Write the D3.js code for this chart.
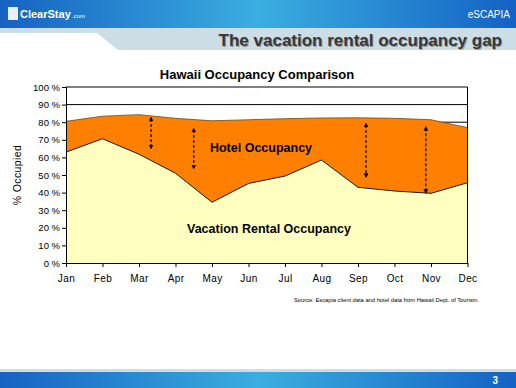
<!DOCTYPE html>
<html lang="en">
<head>
<meta charset="UTF-8">
<title>The vacation rental occupancy gap</title>
<script src="https://d3js.org/d3.v7.min.js"></script>
<style>
  body { margin: 0; background: #fff; }
  svg { display: block; font-family: Arial, "Liberation Sans", sans-serif; }
  .tick text { font-size: 9.5px; fill: #000; }
  .title { font-size: 13px; font-weight: bold; }
  .area-label { font-size: 12.5px; font-weight: bold; }
</style>
</head>
<body>
<svg width="516" height="388"></svg>
<script>
var months = ["Jan", "Feb", "Mar", "Apr", "May", "Jun", "Jul", "Aug", "Sep", "Oct", "Nov", "Dec"];
var hotel = [80.5, 83.4, 84.3, 82.2, 80.8, 81.4, 82.0, 82.4, 82.5, 82.2, 81.4, 76.9];
var vacation = [63.0, 70.6, 61.8, 51.0, 34.5, 45.2, 49.4, 58.5, 43.0, 40.9, 39.6, 45.6];
var yTicks = [0, 10, 20, 30, 40, 50, 60, 70, 80, 90, 100];
// gap arrows: position in months from Jan, top and bottom in %
var arrowAt = [2.33, 3.5, 8.22, 9.86];
var arrowTop = [81.8, 75.6, 78.4, 76.5];
var arrowBottom = [65.9, 54.5, 49.6, 40.6];

var svg = d3.select("svg");
var defs = svg.append("defs");

// header / footer bands
var blue = defs.append("linearGradient").attr("id", "blue");
blue.append("stop").attr("offset", "0%").attr("stop-color", "#1662c2");
blue.append("stop").attr("offset", "50%").attr("stop-color", "#3aaee0");
blue.append("stop").attr("offset", "100%").attr("stop-color", "#1462c4");

svg.append("rect").attr("x", 0).attr("y", 0).attr("width", 516).attr("height", 28).attr("fill", "url(#blue)");
svg.append("path").attr("d", "M0,28H516V50H118L97,33H0Z").attr("fill", "#cddde5");

svg.append("rect").attr("x", 8).attr("y", 7).attr("width", 10).attr("height", 13).attr("fill", "#fff").attr("opacity", 0.9);
svg.append("text").attr("x", 20).attr("y", 18).attr("fill", "#fff")
   .style("font-size", "11px").style("font-weight", "bold").text("ClearStay");
svg.append("text").attr("x", 72).attr("y", 18).attr("fill", "#fff")
   .style("font-size", "6px").text(".com");
svg.append("text").attr("x", 510).attr("y", 18).attr("text-anchor", "end").attr("fill", "#fff")
   .style("font-size", "10px").text("eSCAPIA");

svg.append("text").attr("x", 503).attr("y", 46.5).attr("text-anchor", "end").attr("fill", "#999")
   .style("font-size", "17px").style("font-weight", "bold").text("The vacation rental occupancy gap");
svg.append("text").attr("x", 502).attr("y", 45.5).attr("text-anchor", "end").attr("fill", "#383838")
   .style("font-size", "17px").style("font-weight", "bold").text("The vacation rental occupancy gap");

svg.append("rect").attr("x", 0).attr("y", 369).attr("width", 516).attr("height", 3).attr("fill", "#cddde5");
svg.append("rect").attr("x", 0).attr("y", 372).attr("width", 516).attr("height", 16).attr("fill", "url(#blue)");
svg.append("text").attr("x", 498).attr("y", 384).attr("text-anchor", "end").attr("fill", "#fff")
   .style("font-size", "10px").style("font-weight", "bold").text("3");

// chart
var plotLeft = 66, plotRight = 467.5, plotTop = 87, plotBottom = 263;

var x = d3.scalePoint().domain(months).range([plotLeft, plotRight]);
var xi = d3.scaleLinear().domain([0, months.length - 1]).range([plotLeft, plotRight]);
var y = d3.scaleLinear().domain([0, 100]).range([plotBottom, plotTop]);

svg.append("text").attr("class", "title").attr("x", 257).attr("y", 79)
   .attr("text-anchor", "middle").text("Hawaii Occupancy Comparison");

// gridlines
svg.append("g").selectAll("line").data(yTicks.slice(1)).join("line")
   .attr("x1", plotLeft).attr("x2", plotRight)
   .attr("y1", function(d) { return y(d); }).attr("y2", function(d) { return y(d); })
   .attr("stroke", "#000").attr("stroke-width", 1);

var area = d3.area()
    .x(function(d, i) { return x(months[i]); })
    .y0(y(0))
    .y1(function(d) { return y(d); });
var line = d3.line()
    .x(function(d, i) { return x(months[i]); })
    .y(function(d) { return y(d); });

svg.append("path").datum(hotel).attr("d", area).attr("fill", "#ff8000");
svg.append("path").datum(hotel).attr("d", line)
   .attr("fill", "none").attr("stroke", "#6b4a20").attr("stroke-width", 0.8);

svg.append("path").datum(vacation).attr("d", area).attr("fill", "#ffffc0");
svg.append("path").datum(vacation).attr("d", line)
   .attr("fill", "none").attr("stroke", "#1a1a1a").attr("stroke-width", 1);

// plot border right
svg.append("line").attr("x1", plotRight).attr("x2", plotRight).attr("y1", plotTop).attr("y2", plotBottom)
   .attr("stroke", "#000");

// axes
svg.append("g").attr("transform", "translate(" + plotLeft + ",0)")
   .call(d3.axisLeft(y).tickValues(yTicks).tickSize(4).tickPadding(2)
        .tickFormat(function(d) { return d + " %"; }))
   .call(function(g) { g.selectAll("path, line").attr("stroke", "#000"); });

svg.append("g").attr("transform", "translate(0," + plotBottom + ")")
   .call(d3.axisBottom(x).tickSize(4).tickPadding(8).tickSizeOuter(0))
   .call(function(g) {
       g.selectAll("path, line").attr("stroke", "#000");
       g.selectAll("text").style("font-size", "10px").style("letter-spacing", "0.4px");
   });

svg.append("text").attr("transform", "translate(21,175) rotate(-90)")
   .attr("text-anchor", "middle").style("font-size", "10.5px").style("letter-spacing", "0.4px")
   .text("% Occupied");

// arrows
defs.append("marker").attr("id", "head").attr("viewBox", "0 0 6 6")
    .attr("refX", 3).attr("refY", 3).attr("markerWidth", 4).attr("markerHeight", 4)
    .attr("orient", "auto-start-reverse")
    .append("path").attr("d", "M0,0L6,3L0,6Z").attr("fill", "#000");

svg.append("g").selectAll("line").data(arrowAt).join("line")
   .attr("x1", function(d) { return xi(d); }).attr("x2", function(d) { return xi(d); })
   .attr("y1", function(d, i) { return y(arrowTop[i]); })
   .attr("y2", function(d, i) { return y(arrowBottom[i]); })
   .attr("stroke", "#000").attr("stroke-width", 1.2).attr("stroke-dasharray", "3,2")
   .attr("marker-start", "url(#head)").attr("marker-end", "url(#head)");

svg.append("text").attr("class", "area-label").attr("x", 261).attr("y", 152)
   .attr("text-anchor", "middle").text("Hotel Occupancy");
svg.append("text").attr("class", "area-label").attr("x", 269).attr("y", 233)
   .attr("text-anchor", "middle").text("Vacation Rental Occupancy");

svg.append("text").attr("x", 479).attr("y", 301.5).attr("text-anchor", "end")
   .attr("textLength", 185).attr("lengthAdjust", "spacingAndGlyphs")
   .style("font-size", "5.5px")
   .text("Source: Escapia client data and hotel data from Hawaii Dept. of Tourism.");
</script>
</body>
</html>
